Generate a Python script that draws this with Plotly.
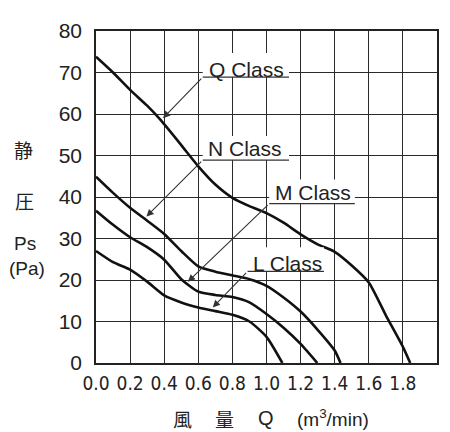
import plotly.graph_objects as go

# ---- data ----
q_x = [0.0, 0.1, 0.2, 0.3, 0.38, 0.5, 0.6, 0.7, 0.8, 0.9, 1.0, 1.1, 1.2, 1.3, 1.4, 1.5, 1.6, 1.7, 1.8, 1.843]
q_y = [73.8, 70.0, 65.8, 62.0, 58.5, 52.5, 47.4, 43.0, 39.8, 37.8, 36.1, 33.8, 31.0, 28.6, 26.8, 23.5, 19.4, 11.5, 3.9, 0.0]

n_x = [0.0, 0.1, 0.2, 0.3, 0.4, 0.5, 0.6, 0.7, 0.8, 0.9, 1.0, 1.1, 1.2, 1.3, 1.4, 1.434]
n_y = [44.9, 41.0, 37.4, 34.3, 31.1, 27.0, 23.3, 22.0, 21.1, 20.2, 18.6, 15.8, 12.4, 8.0, 3.0, 0.0]

m_x = [0.0, 0.1, 0.2, 0.3, 0.4, 0.5, 0.6, 0.7, 0.8, 0.9, 1.0, 1.1, 1.2, 1.298]
m_y = [36.7, 33.3, 30.3, 27.9, 24.9, 20.2, 17.2, 16.4, 15.9, 14.6, 11.8, 8.5, 4.6, 0.0]

l_x = [0.0, 0.1, 0.2, 0.3, 0.4, 0.5, 0.6, 0.7, 0.8, 0.9, 1.0, 1.093]
l_y = [27.0, 24.3, 22.5, 19.6, 16.3, 14.6, 13.4, 12.5, 11.6, 10.0, 6.3, 0.0]

x_ticks = [0.0, 0.2, 0.4, 0.6, 0.8, 1.0, 1.2, 1.4, 1.6, 1.8, 2.0]
x_tick_text = ["0.0", "0.2", "0.4", "0.6", "0.8", "1.0", "1.2", "1.4", "1.6", "1.8", "2.0"]
y_ticks = [0, 10, 20, 30, 40, 50, 60, 70, 80]

# label: (text, text x, text y, underline x0, underline x1, underline y, arrow tip x, arrow tip y)
labels = [
    ("Q Class", 0.881, 70.8, 0.626, 1.132, 68.9, 0.393, 59.0),
    ("N Class", 0.875, 51.6, 0.626, 1.132, 48.9, 0.296, 35.3),
    ("M Class", 1.270, 41.1, 1.016, 1.518, 38.4, 0.539, 19.6),
    ("L Class", 1.124, 24.0, 0.889, 1.337, 22.1, 0.685, 13.4),
]

# page body has an 8px margin; the figure is sized/offset to compensate
OFF = 8
W, H = 442, 424
L, R, T, B = 88, 11, 12, 69
pw, ph = W - L - R, H - T - B


def px(xw):
    return (xw - OFF - L) / pw


def py(yw):
    return (H - B - (yw - OFF)) / ph


fig = go.Figure()
for xs, ys in [(q_x, q_y), (n_x, n_y), (m_x, m_y), (l_x, l_y)]:
    fig.add_trace(go.Scatter(x=xs, y=ys, mode="lines",
                             line=dict(color="#111111", width=2.6, shape="spline", smoothing=0.6),
                             showlegend=False, hoverinfo="skip"))

shapes = []
annotations = []
for text, tx, ty, ux0, ux1, uy, ax_tip, ay_tip in labels:
    # white patch that interrupts the grid behind the label
    shapes.append(dict(type="rect", xref="x", yref="y", x0=ux0, x1=ux1, y0=uy, y1=uy + 5.8,
                       fillcolor="white", line=dict(width=0), layer="above"))
for text, tx, ty, ux0, ux1, uy, ax_tip, ay_tip in labels:
    shapes.append(dict(type="line", xref="x", yref="y", x0=ux0, x1=ux1, y0=uy, y1=uy,
                       line=dict(color="#333333", width=1.3), layer="above"))
    annotations.append(dict(x=tx, y=ty, xref="x", yref="y", text=text, showarrow=False,
                            font=dict(family="Liberation Sans, Arial", size=21, color="#222222")))
    annotations.append(dict(x=ax_tip, y=ay_tip, xref="x", yref="y", ax=ux0, ay=uy,
                            axref="x", ayref="y", text="", showarrow=True,
                            arrowhead=2, arrowsize=1.3, arrowwidth=1.1, arrowcolor="#333333",
                            standoff=0))

for txt, xx, yy, fam, sz in [("静", 23, 142, "Noto Sans CJK JP", 19),
                             ("圧", 24, 195, "Noto Sans CJK JP", 19),
                             ("Ps", 25, 240, "Liberation Sans", 19),
                             ("(Pa)", 27, 265, "Liberation Sans", 19)]:
    annotations.append(dict(x=px(xx), y=py(yy), xref="paper", yref="paper", text=txt,
                            showarrow=False, xanchor="center", yanchor="middle",
                            font=dict(family=fam, size=sz, color="#222222")))

for txt, xx, fam, sz in [("風", 183, "Noto Sans CJK JP", 19),
                         ("量", 225, "Noto Sans CJK JP", 19),
                         ("Q", 267, "Liberation Sans", 20),
                         ("(m<sup>3</sup>/min)", 334, "Liberation Sans", 19)]:
    annotations.append(dict(x=px(xx), y=py(420), xref="paper", yref="paper", text=txt,
                            showarrow=False, xanchor="center", yanchor="middle",
                            font=dict(family=fam, size=sz, color="#222222")))

fig.update_layout(
    width=W, height=H,
    margin=dict(l=L, r=R, t=T, b=B),
    paper_bgcolor="white", plot_bgcolor="white",
    shapes=shapes, annotations=annotations,
    xaxis=dict(range=[0, 2.0], tickvals=x_ticks, ticktext=x_tick_text,
               showgrid=True, gridcolor="#2a2a2a", gridwidth=1.3,
               showline=True, linecolor="#222222", linewidth=1.6, mirror=True,
               zeroline=False, ticks="", ticklabelstandoff=2,
               tickfont=dict(family="Liberation Sans Narrow, DejaVu Sans Condensed, Arial Narrow, Liberation Sans",
                             size=19, color="#222222")),
    yaxis=dict(range=[0, 80], tickvals=y_ticks,
               showgrid=True, gridcolor="#2a2a2a", gridwidth=1.3,
               showline=True, linecolor="#222222", linewidth=1.6, mirror=True,
               zeroline=False, ticks="", ticklabelstandoff=8,
               tickfont=dict(family="Liberation Sans, Arial", size=21, color="#222222")),
)

fig.write_html("out.html")
